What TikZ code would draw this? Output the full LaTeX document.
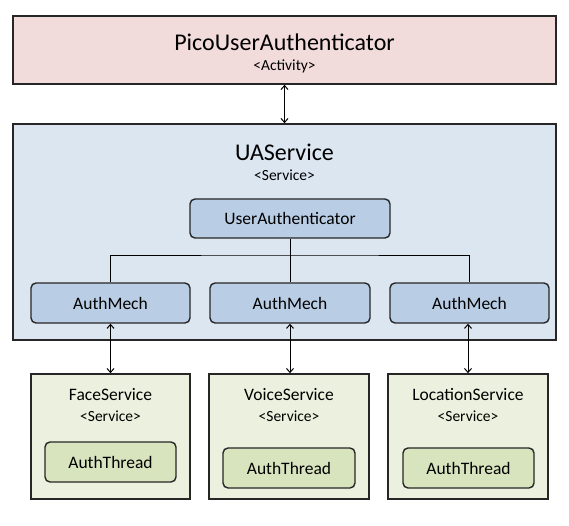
\documentclass[tikz,border=0pt]{standalone}
\usepackage{fontspec}
\setmainfont{Carlito}
\usetikzlibrary{arrows.meta}
\definecolor{pinkbg}{HTML}{F2DCDB}
\definecolor{bluebg}{HTML}{DCE6F1}
\definecolor{bluebox}{HTML}{B9CDE5}
\definecolor{greenbg}{HTML}{EBF1DE}
\definecolor{greenbox}{HTML}{D7E4BD}
\begin{document}
\begin{tikzpicture}[x=1pt,y=-1pt,
  outerbox/.style={draw=black!85,line width=1.6pt,inner sep=0pt},
  innerbox/.style={draw=black!85,line width=1.4pt,rounded corners=5pt,inner sep=0pt,font=\fontsize{17.5}{20}\selectfont},
  bigtitle/.style={inner sep=0pt,font=\fontsize{24}{28}\selectfont},
  subtitle/.style={inner sep=0pt,font=\fontsize{15.5}{18}\selectfont},
  svctitle/.style={inner sep=0pt,font=\fontsize{17.5}{20}\selectfont},
  link/.style={line width=1pt,black},
  arr/.style={line width=1pt,black,{Straight Barb[length=4pt,width=7pt]}-{Straight Barb[length=4pt,width=7pt]}}
]
\useasboundingbox (0,0) rectangle (569,526);
% top activity
\node[outerbox,fill=pinkbg,minimum width=543,minimum height=68] (pua) at (284.5,50) {};
\node[bigtitle] (puat) at (284.5,42) {PicoUserAuthenticator};
\node[subtitle] (puas) at (284.5,66) {<Activity>};
% UAService
\node[outerbox,fill=bluebg,minimum width=543,minimum height=216] (uas) at (284.5,232) {};
\node[bigtitle] (uast) at (284.5,152) {UAService};
\node[subtitle] (uass) at (284.5,175) {<Service>};
\node[innerbox,fill=bluebox,minimum width=200,minimum height=39] (ua) at (290,218.5) {UserAuthenticator};
\node[innerbox,fill=bluebox,minimum width=159,minimum height=40] (am1) at (110.5,303) {AuthMech};
\node[innerbox,fill=bluebox,minimum width=160,minimum height=40] (am2) at (290,303) {AuthMech};
\node[innerbox,fill=bluebox,minimum width=159,minimum height=40] (am3) at (469.5,303) {AuthMech};
\coordinate (bus) at (290,255);
\draw[link] (ua.south) -- (bus);
\draw[link] (am1.north) |- (bus) -| (am3.north);
\draw[link] (bus) -- (am2.north);
% services
\node[outerbox,fill=greenbg,minimum width=159,minimum height=125] (fs) at (110.5,436.5) {};
\node[outerbox,fill=greenbg,minimum width=160,minimum height=125] (vs) at (289,436.5) {};
\node[outerbox,fill=greenbg,minimum width=160,minimum height=125] (ls) at (468,436.5) {};
\node[svctitle] (fst) at (110.5,395) {FaceService};
\node[subtitle] (fss) at (110.5,416) {<Service>};
\node[svctitle] (vst) at (289,395) {VoiceService};
\node[subtitle] (vss) at (289,416) {<Service>};
\node[svctitle] (lst) at (468,395) {LocationService};
\node[subtitle] (lss) at (468,416) {<Service>};
\node[innerbox,fill=greenbox,minimum width=131,minimum height=40] (ft) at (110.5,462) {AuthThread};
\node[innerbox,fill=greenbox,minimum width=132,minimum height=40] (vt) at (289,468) {AuthThread};
\node[innerbox,fill=greenbox,minimum width=131,minimum height=40] (lt) at (468.5,468) {AuthThread};
% arrows
\draw[arr] (pua.south) -- (uas.north);
\draw[arr] (am1.south) -- (am1.south |- fs.north);
\draw[arr] (am2.south) -- (am2.south |- vs.north);
\draw[arr] (am3.south -| ls.north) -- (ls.north);
\end{tikzpicture}
\end{document}
